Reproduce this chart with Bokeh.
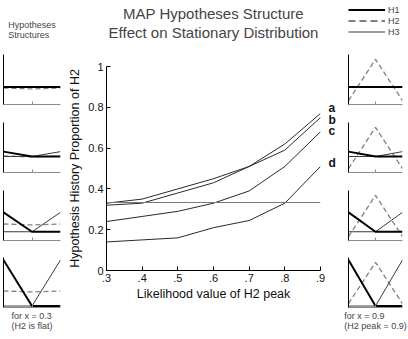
from bokeh.plotting import figure
from bokeh.layouts import row, column
from bokeh.models import Range1d, FixedTicker, Span, Title, Legend, LegendItem, LinearAxis
from bokeh.embed import file_html
from bokeh.resources import INLINE

FONT = "Liberation Sans"

# Stationary proportion of H2 as the likelihood of its peak grows
peak_values = [0.3, 0.4, 0.5, 0.6, 0.7, 0.8, 0.9]
prop_a = [0.33, 0.35, 0.40, 0.45, 0.51, 0.62, 0.77]
prop_b = [0.32, 0.33, 0.38, 0.43, 0.51, 0.59, 0.75]
prop_c = [0.24, 0.265, 0.29, 0.33, 0.39, 0.51, 0.68]
prop_d = [0.14, 0.15, 0.16, 0.21, 0.245, 0.33, 0.51]
curve_names = ["a", "b", "c", "d"]
chance_level = 1 / 3

x_ticks = [0.3, 0.4, 0.5, 0.6, 0.7, 0.8, 0.9]
x_tick_labels = [".3", ".4", ".5", ".6", ".7", ".8", ".9"]
y_ticks = [0, 0.2, 0.4, 0.6, 0.8, 1]
y_tick_labels = ["0", "0.2", "0.4", "0.6", "0.8", "1"]

# Hypothesis likelihoods over three outcomes, one structure per row
outcomes = [0, 0.5, 1]
h1_structures = [
    [0.33, 0.33, 0.33],
    [0.40, 0.30, 0.30],
    [0.55, 0.15, 0.15],
    [0.95, 0.00, 0.00],
]
h3_structures = [
    [0.33, 0.33, 0.33],
    [0.30, 0.30, 0.40],
    [0.15, 0.15, 0.55],
    [0.00, 0.00, 0.95],
]
h2_flat = [0.31, 0.29, 0.31]
h2_peaked = [0.05, 0.90, 0.05]
hypothesis_names = ["H1", "H2", "H3"]

H1_STYLE = dict(color="black", line_width=2)
H2_STYLE = dict(color="#808080", line_width=1.3, line_dash="5 3")
H3_STYLE = dict(color="#3a3a3a", line_width=1)


def base_fig(**kw):
    return figure(output_backend="svg", toolbar_location=None, **kw)


# ---- title strip over the central chart ----
header = base_fig(width=273, height=42, title=None, x_range=Range1d(0, 1), y_range=Range1d(0, 1),
                  min_border_left=27, min_border_right=16, min_border_top=40, min_border_bottom=0,
                  x_axis_location=None, y_axis_location=None)
header.grid.visible = False
header.outline_line_color = None
# the line nearest the frame is added first
header.add_layout(Title(text="Effect on Stationary Distribution", align="center", text_font=FONT,
                        text_font_size="15px", text_font_style="normal", standoff=0), "above")
header.add_layout(Title(text="MAP Hypotheses Structure", align="center", text_font=FONT,
                        text_font_size="15px", text_font_style="normal", standoff=0), "above")

# ---- central chart ----
main = base_fig(width=273, height=297, title=None, x_range=Range1d(0.3, 0.9), y_range=Range1d(0, 1),
                min_border_left=36, min_border_right=16, min_border_top=24, min_border_bottom=69)
main.grid.visible = False
main.outline_line_color = None

main.xaxis.ticker = FixedTicker(ticks=x_ticks)
main.xaxis.major_label_overrides = dict(zip(x_ticks, x_tick_labels))
main.yaxis.ticker = FixedTicker(ticks=y_ticks)
main.yaxis.major_label_overrides = dict(zip(y_ticks, y_tick_labels))
main.xaxis.axis_label = "Likelihood value of H2 peak"
main.yaxis.axis_label = "Hypothesis History Proportion of H2"
for ax in main.axis:
    ax.major_tick_in = 4
    ax.major_tick_out = 0
    ax.minor_tick_line_color = None
    ax.axis_line_color = "black"
    ax.major_tick_line_color = "black"
    ax.major_label_text_font = FONT
    ax.major_label_text_font_size = "11px"
    ax.major_label_text_color = "#111"
    ax.axis_label_text_font = FONT
    ax.axis_label_text_font_size = "12.5px"
    ax.axis_label_text_font_style = "normal"
    ax.axis_label_text_color = "#111"
main.xaxis.major_label_standoff = 3
main.xaxis.axis_label_standoff = 2
main.yaxis.major_label_standoff = 3
main.yaxis.axis_label_standoff = 3

main.add_layout(Span(location=chance_level, dimension="width", line_color="#7a7a7a", line_width=1))

curves = [prop_a, prop_b, prop_c, prop_d]
for vals in curves:
    main.line(peak_values, vals, color="#2a2a2a", line_width=1)

# curve names sit just right of each curve's end, nudged apart (pixels -> data units)
label_nudge_px = {"a": 5, "b": -2, "c": 1, "d": 3}
px_per_unit = 204
name_pos = [vals[-1] + label_nudge_px[n] / px_per_unit for vals, n in zip(curves, curve_names)]
name_axis = LinearAxis(ticker=FixedTicker(ticks=name_pos),
                       major_label_overrides=dict(zip(name_pos, curve_names)),
                       axis_line_color=None, major_tick_line_color=None,
                       minor_tick_line_color=None, major_label_standoff=2,
                       major_label_text_font=FONT, major_label_text_font_size="12px",
                       major_label_text_font_style="bold", major_label_text_color="#111")
main.add_layout(name_axis, "right")


# ---- small structure panels ----
def panel(h1, h2, h3, width, height, left, right, top, bottom):
    f = base_fig(width=width, height=height, title=None,
                 x_range=Range1d(0, 1), y_range=Range1d(-0.03, 1.0),
                 min_border_left=left, min_border_right=right,
                 min_border_top=top, min_border_bottom=bottom)
    f.grid.visible = False
    f.outline_line_color = None
    f.yaxis.ticker = FixedTicker(ticks=[])
    f.xaxis.ticker = FixedTicker(ticks=[], minor_ticks=[0.5])
    for ax in f.axis:
        ax.major_tick_line_color = None
        ax.minor_tick_in = 3
        ax.minor_tick_out = 0
        ax.major_label_standoff = 0
    f.yaxis.axis_line_color = "black"
    f.xaxis.axis_line_color = "#8c8c8c"
    f.xaxis.minor_tick_line_color = "#8c8c8c"
    f.line(outcomes, h2, **H2_STYLE)
    f.line(outcomes, h3, **H3_STYLE)
    f.line(outcomes, h1, **H1_STYLE)
    return f


def side_column(h2, width, left, right, first_top, caption):
    figs = []
    tops = [first_top, 9, 9, 8]
    bottoms = [9, 9, 9, 32]
    heights = [first_top + 59, 68, 68, 90]
    for i in range(4):
        figs.append(panel(h1_structures[i], h2, h3_structures[i], width, heights[i],
                          left, right, tops[i], bottoms[i]))
    figs[-1].add_layout(Title(text=caption, align="center", text_font=FONT, text_font_size="9px",
                              text_font_style="normal", standoff=3), "below")
    return figs


left_figs = side_column(h2_flat, 65, 3, 5, 54, "for x = 0.3\n(H2 is flat)")
left_figs[0].add_layout(Title(text="Hypotheses\nStructures", align="center", text_font=FONT,
                              text_font_size="9px", text_font_style="normal", standoff=29), "above")

right_figs = side_column(h2_peaked, 70, 6, 6, 7, "for x = 0.9\n(H2 peak = 0.9)")

# legend strip above the right-hand panels; its renderers stay hidden so only the key shows
key = base_fig(width=70, height=47, title=None, x_range=Range1d(0, 1), y_range=Range1d(0, 1),
               min_border_left=10, min_border_top=4, min_border_right=0, min_border_bottom=0,
               x_axis_location=None, y_axis_location=None)
key.grid.visible = False
key.outline_line_color = None
k1 = key.line(outcomes, h1_structures[0], visible=False, **H1_STYLE)
k2 = key.line(outcomes, h2_peaked, visible=False, color="#808080", line_width=2, line_dash="7 4")
k3 = key.line(outcomes, h3_structures[0], visible=False, **H3_STYLE)
legend = Legend(items=[LegendItem(label=n, renderers=[r])
                       for n, r in zip(hypothesis_names, [k1, k2, k3])],
                location="top_left", glyph_width=37, glyph_height=11, label_height=11,
                label_standoff=3, spacing=0, padding=0, margin=0,
                border_line_color=None, background_fill_alpha=0, inactive_fill_alpha=0,
                label_text_font=FONT, label_text_font_size="9px")
key.add_layout(legend)

layout = row(column(*left_figs), column(header, main), column(key, *right_figs))

open("out.html", "w").write(file_html(layout, INLINE))
